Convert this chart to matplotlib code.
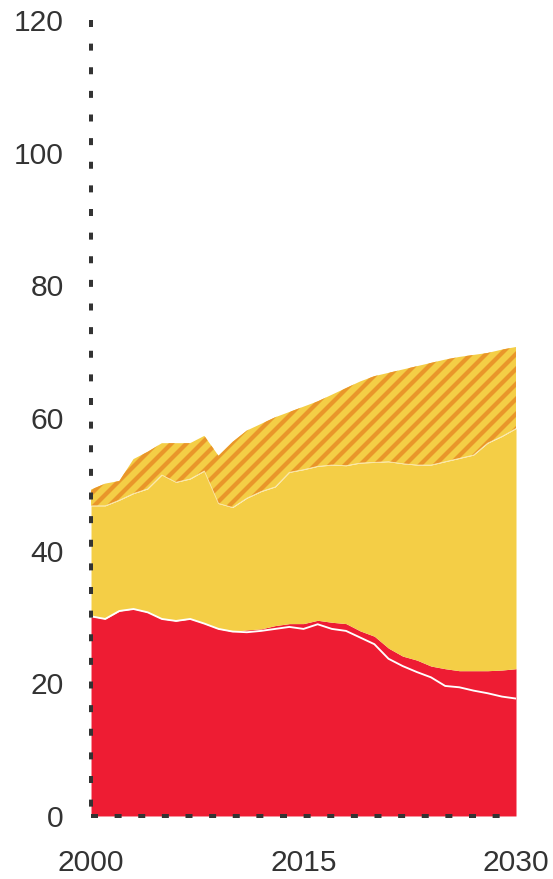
import matplotlib
matplotlib.use("Agg")
import matplotlib.pyplot as plt

plt.rcParams['font.family'] = ['Liberation Sans', 'DejaVu Sans']
plt.rcParams['lines.scale_dashes'] = False
plt.rcParams['hatch.linewidth'] = 3.4
plt.rcParams['hatch.color'] = '#E9962A'

# years and the stacked levels (cumulative tops)
years = list(range(2000, 2031))
red_low = [30.1, 29.7, 30.9, 31.2, 30.7, 29.7, 29.4, 29.7, 29.0, 28.2, 27.8,
           27.7, 27.9, 28.2, 28.5, 28.2, 28.9, 28.2, 27.9, 26.9, 25.9,
           23.7, 22.6, 21.7, 20.9, 19.6, 19.4, 18.9, 18.5, 18.0, 17.7]
red_top = [30.1, 29.7, 30.9, 31.2, 30.7, 29.7, 29.4, 29.7, 29.0, 28.2, 27.8,
           28.05, 28.2, 28.7, 29.0, 29.0, 29.5, 29.2, 29.0, 27.9, 27.1,
           25.3, 24.1, 23.5, 22.6, 22.2, 21.9, 21.9, 21.9, 22.0, 22.2]
yellow_top = [46.75, 46.75, 47.6, 48.6, 49.3, 51.4, 50.3, 50.8, 52.0, 47.1, 46.5,
              47.9, 48.9, 49.6, 51.8, 52.2, 52.7, 52.9, 52.8, 53.2, 53.3,
              53.4, 53.1, 52.9, 52.9, 53.4, 53.9, 54.4, 56.2, 57.2, 58.4]
hatch_top = [49.2, 50.1, 50.5, 53.8, 54.9, 56.2, 56.2, 56.2, 57.3, 54.3, 56.4,
             58.1, 59.1, 60.1, 60.9, 61.7, 62.5, 63.5, 64.5, 65.5, 66.3,
             66.8, 67.3, 67.8, 68.3, 68.8, 69.2, 69.5, 69.8, 70.3, 70.7]

yticks = [0, 20, 40, 60, 80, 100, 120]
xticks = [2000, 2015, 2030]

RED = '#EE1C33'
YELLOW = '#F4CE46'
TEXT = '#333333'

fig = plt.figure(figsize=(553 / 90, 879 / 90), dpi=90)
ax = fig.add_axes([0.1646, 0.0717, 0.7685, 0.9056])

ax.fill_between(years, 0, red_top, color=RED, lw=0)
ax.fill_between(years, red_top, yellow_top, color=YELLOW, lw=0)
ax.fill_between(years, yellow_top, hatch_top, facecolor=YELLOW,
                edgecolor='#E9962A', lw=0, hatch='//')
ax.plot(years, red_low, color='white', lw=1.5)
ax.plot(years, yellow_top, color='#FBE7A6', lw=0.7)

ax.set_xlim(2000, 2030)
ax.set_ylim(0, 120)
ax.set_xticks(xticks)
ax.set_yticks(yticks)
ax.tick_params(length=0, labelsize=24, colors=TEXT)
ax.tick_params(axis='y', pad=22)
ax.tick_params(axis='x', pad=26.5)

for s in ax.spines.values():
    s.set_visible(False)

# dotted axes, drawn as lines (top-down for y, left-right for x)
ax.plot([2000, 2000], [120, 0], color=TEXT, lw=3.2, dashes=(5.6, 13.3),
        clip_on=False, zorder=5)
ax.plot([2000, 2030], [0, 0], color=TEXT, lw=3.2, dashes=(5.6, 13.3),
        clip_on=False, zorder=5)

plt.savefig('out.png', dpi=90)
